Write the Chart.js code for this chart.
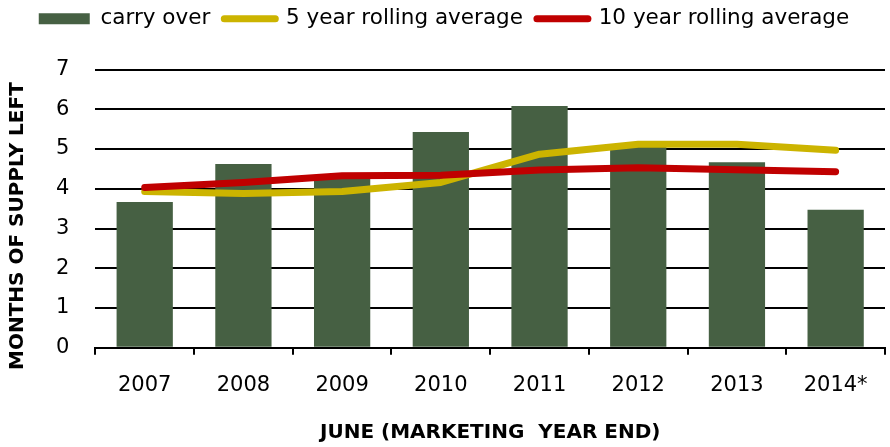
<!DOCTYPE html>
<html>
<head>
<meta charset="utf-8">
<script src="https://cdn.jsdelivr.net/npm/chart.js@4"></script>
<style>
  html, body { margin: 0; padding: 0; background: #fff; }
  #wrap { width: 890px; height: 447px; }
</style>
</head>
<body>
<div id="wrap"><canvas id="supplyChart"></canvas></div>
<script>
const years = ['2007', '2008', '2009', '2010', '2011', '2012', '2013', '2014*'];
const carryOver = [3.67, 4.62, 4.25, 5.43, 6.08, 5.05, 4.67, 3.47];
const avg5 = [3.93, 3.88, 3.93, 4.16, 4.87, 5.12, 5.12, 4.97];
const avg10 = [4.03, 4.16, 4.33, 4.34, 4.47, 4.53, 4.48, 4.43];
const yMin = 0, yMax = 7, yStep = 1;

Chart.defaults.color = '#000';
Chart.defaults.font.family = '"DejaVu Sans", sans-serif';

// push the plot down a bit below the legend
const legendGap = {
  id: 'legendGap',
  beforeInit(chart) {
    const fit = chart.legend.fit;
    chart.legend.fit = function () {
      fit.bind(chart.legend)();
      this.height += 30;
    };
  }
};

const ctx = document.getElementById('supplyChart').getContext('2d');
new Chart(ctx, {
  data: {
    labels: years,
    datasets: [
      {
        type: 'bar',
        label: 'carry over',
        data: carryOver,
        backgroundColor: '#466043',
        barPercentage: 0.57,
        categoryPercentage: 1,
        order: 3
      },
      {
        type: 'line',
        label: '5 year rolling average',
        data: avg5,
        borderColor: '#CCB400',
        backgroundColor: '#CCB400',
        borderWidth: 7,
        borderCapStyle: 'round',
        borderJoinStyle: 'round',
        pointRadius: 0,
        pointStyle: 'line',
        tension: 0,
        order: 2
      },
      {
        type: 'line',
        label: '10 year rolling average',
        data: avg10,
        borderColor: '#C00000',
        backgroundColor: '#C00000',
        borderWidth: 7,
        borderCapStyle: 'round',
        borderJoinStyle: 'round',
        pointRadius: 0,
        pointStyle: 'line',
        tension: 0,
        order: 1
      }
    ]
  },
  options: {
    responsive: true,
    maintainAspectRatio: false,
    animation: false,
    layout: { padding: { top: -6, left: 3, right: 5, bottom: 0 } },
    plugins: {
      tooltip: { enabled: false },
      legend: {
        position: 'top',
        labels: {
          usePointStyle: true,
          pointStyleWidth: 51,
          boxHeight: 11,
          padding: 14,
          font: { size: 21.5 },
          sort: (a, b) => a.datasetIndex - b.datasetIndex,
          generateLabels(chart) {
            const items = Chart.defaults.plugins.legend.labels.generateLabels(chart);
            items.forEach(it => {
              const ds = chart.data.datasets[it.datasetIndex];
              it.pointStyle = 'line';
              if (ds.type === 'line') {
                it.lineWidth = 7;
                it.lineCap = 'round';
              } else {
                // thick flat line = the green swatch
                it.lineWidth = 11;
                it.lineCap = 'butt';
                it.strokeStyle = ds.backgroundColor;
              }
            });
            return items;
          }
        }
      }
    },
    scales: {
      x: {
        offset: true,
        grid: {
          offset: true,
          drawOnChartArea: false,
          drawTicks: true,
          tickLength: 7,
          color: '#000',
          lineWidth: 2
        },
        border: { display: true, color: '#000', width: 2 },
        ticks: { padding: 18, font: { size: 21 } },
        title: {
          display: true,
          text: 'JUNE (MARKETING  YEAR END)',
          font: { size: 20, weight: 'bold' },
          padding: { top: 5, bottom: 2 }
        }
      },
      y: {
        min: yMin,
        max: yMax,
        grid: { color: '#000', lineWidth: 2, drawTicks: false },
        border: { display: false },
        ticks: { stepSize: yStep, padding: 26, font: { size: 21 } },
        title: {
          display: true,
          // trailing spaces shift the label toward the bottom like in the original
          text: 'MONTHS OF SUPPLY LEFT     ',
          font: { size: 20, weight: 'bold' },
          padding: { top: 3, bottom: 0 }
        }
      }
    }
  },
  plugins: [legendGap]
});
</script>
</body>
</html>
